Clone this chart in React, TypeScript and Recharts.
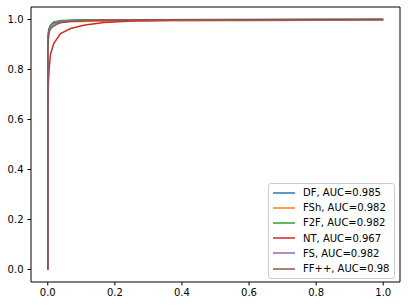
import { LineChart, Line, XAxis, YAxis, Legend, ReferenceLine } from 'recharts';

// ROC points: [false positive rate, true positive rate]
const dfPoints = [
  [0, 0], [0, 0.9], [0.002, 0.95], [0.005, 0.966], [0.01, 0.979], [0.02, 0.988],
  [0.04, 0.994], [0.08, 0.997], [0.2, 0.999], [1, 1],
];
const fshPoints = [
  [0, 0], [0, 0.9], [0.003, 0.955], [0.008, 0.972], [0.015, 0.982], [0.03, 0.988],
  [0.06, 0.991], [0.15, 0.993], [0.4, 0.995], [0.7, 0.996], [0.85, 0.998], [1, 1],
];
const f2fPoints = [
  [0, 0], [0, 0.92], [0.003, 0.96], [0.008, 0.977], [0.018, 0.99], [0.04, 0.996],
  [0.1, 0.998], [0.3, 0.999], [1, 1],
];
const ntPoints = [
  [0, 0], [0, 0.65], [0.002, 0.75], [0.004, 0.8], [0.008, 0.86], [0.018, 0.905],
  [0.038, 0.944], [0.068, 0.964], [0.107, 0.977], [0.167, 0.988], [0.25, 0.994],
  [0.4, 0.998], [0.6, 0.999], [1, 1],
];
const fsPoints = [
  [0, 0], [0, 0.9], [0.003, 0.95], [0.008, 0.97], [0.015, 0.982], [0.03, 0.99],
  [0.06, 0.995], [0.15, 0.998], [1, 1],
];
const ffppPoints = [
  [0, 0], [0, 0.88], [0.003, 0.945], [0.007, 0.96], [0.013, 0.97], [0.025, 0.98],
  [0.038, 0.987], [0.07, 0.993], [0.15, 0.997], [0.3, 0.999], [1, 1],
];

const seriesNames = ['DF', 'FSh', 'F2F', 'NT', 'FS', 'FF++'];
const aucValues = ['0.985', '0.982', '0.982', '0.967', '0.982', '0.98'];
const seriesPoints = [dfPoints, fshPoints, f2fPoints, ntPoints, fsPoints, ffppPoints];
const colours = ['#1f77b4', '#ff7f0e', '#2ca02c', '#d62728', '#9467bd', '#8c564b'];
const ticks = [0, 0.2, 0.4, 0.6, 0.8, 1.0];
const domain: [number, number] = [-0.05, 1.05];

const FONT = '"DejaVu Sans", sans-serif';

const series = seriesNames.map((name, i) => ({
  name,
  label: `${name}, AUC=${aucValues[i]}`,
  colour: colours[i],
  data: seriesPoints[i].map(([x, y]) => ({ x, y })),
}));

function LegendBox() {
  return (
    <div
      style={{
        boxSizing: 'border-box',
        width: 127,
        border: '1px solid #cccccc',
        borderRadius: 3,
        background: 'rgba(255,255,255,0.8)',
        padding: '1px 0 2px 0',
        fontFamily: FONT,
        fontSize: 10,
        color: '#000',
      }}
    >
      {series.map((s) => (
        <div key={s.name} style={{ display: 'flex', alignItems: 'center', height: 15.2 }}>
          <svg width={34} height={4} style={{ flex: 'none' }}>
            <line x1={4} x2={26} y1={2} y2={2} stroke={s.colour} strokeWidth={1.5} />
          </svg>
          <span style={{ whiteSpace: 'nowrap' }}>{s.label}</span>
        </div>
      ))}
    </div>
  );
}

const tickStyle = { fontSize: 10, fill: '#000', fontFamily: FONT };
const fmt = (v: number) => v.toFixed(1);

export default function App() {
  return (
    <div style={{ position: 'absolute', left: 0, top: 0, background: '#fff' }}>
      <LineChart width={408} height={307} margin={{ top: 7, right: 8, bottom: 0, left: 0 }}>
        <XAxis
          dataKey="x"
          type="number"
          domain={domain}
          ticks={ticks}
          tickFormatter={fmt}
          allowDataOverflow
          height={25}
          tickSize={3.5}
          tickMargin={3}
          tick={tickStyle}
          stroke="#000"
        />
        <YAxis
          dataKey="y"
          type="number"
          domain={domain}
          ticks={ticks}
          tickFormatter={fmt}
          allowDataOverflow
          width={31}
          tickSize={3.5}
          tickMargin={4}
          tick={tickStyle}
          stroke="#000"
        />
        <ReferenceLine x={1.05} stroke="#000" strokeWidth={1} ifOverflow="visible" />
        <ReferenceLine y={1.05} stroke="#000" strokeWidth={1} ifOverflow="visible" />
        {series.map((s) => (
          <Line
            key={s.name}
            data={s.data}
            dataKey="y"
            name={s.label}
            type="linear"
            stroke={s.colour}
            strokeWidth={1.5}
            dot={false}
            isAnimationActive={false}
          />
        ))}
        <Legend
          layout="vertical"
          align="center"
          verticalAlign="middle"
          content={() => <LegendBox />}
          wrapperStyle={{ position: 'absolute', left: 268, top: 183, width: 127, bottom: 'auto', margin: 0 }}
        />
      </LineChart>
    </div>
  );
}
